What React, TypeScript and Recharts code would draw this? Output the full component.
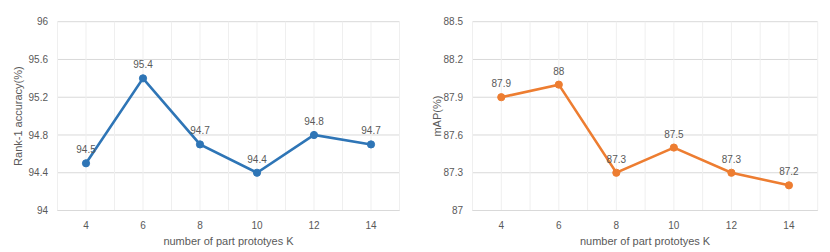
import React from 'react';
import { LineChart, Line, XAxis, YAxis, CartesianGrid, ReferenceLine, LabelList, Label } from 'recharts';

const kValues = [4, 6, 8, 10, 12, 14];
const rank1Values = [94.5, 95.4, 94.7, 94.4, 94.8, 94.7];
const mapValues = [87.9, 88, 87.3, 87.5, 87.3, 87.2];
const rank1Ticks = [94, 94.4, 94.8, 95.2, 95.6, 96];
const mapTicks = [87, 87.3, 87.6, 87.9, 88.2, 88.5];
const gridX = [3, 4, 5, 6, 7, 8, 9, 10, 11, 12, 13, 14, 15];
const xTitle = 'number of part prototyes K';

const FONT = 'Liberation Sans, Arial, sans-serif';
const TEXT = '#595959';

type PanelProps = {
  values: number[];
  ticks: number[];
  color: string;
  yTitle: string;
  titleX: number;
  right: number;
};

function Panel({ values, ticks, color, yTitle, titleX, right }: PanelProps) {
  const data = kValues.map((k, i) => ({ k, v: values[i] }));
  return (
    <LineChart
      width={415}
      height={252}
      data={data}
      margin={{ top: 21.7, right, bottom: 3.5, left: 0 }}
      style={{ fontFamily: FONT }}
    >
      <CartesianGrid horizontal={true} vertical={false} stroke="#d9d9d9" strokeWidth={1} />
      {gridX.map((g) => (
        <ReferenceLine key={g} x={g} stroke="#efefef" strokeWidth={1} ifOverflow="visible" />
      ))}
      <XAxis
        dataKey="k"
        type="number"
        domain={[3, 15]}
        ticks={kValues}
        height={38}
        axisLine={{ stroke: '#d9d9d9' }}
        tickLine={false}
        tickSize={0}
        tickMargin={11}
        tick={{ fill: TEXT, fontSize: 10 }}
      >
        <Label value={xTitle} position="insideBottom" offset={4} fill={TEXT} fontSize={11} />
      </XAxis>
      <YAxis
        type="number"
        domain={[ticks[0], ticks[ticks.length - 1]]}
        ticks={ticks}
        width={57.5}
        axisLine={false}
        tickLine={false}
        tickSize={0}
        tickMargin={9.5}
        tick={{ fill: TEXT, fontSize: 10 }}
        label={{
          content: (p: any) => {
            const vb = p.viewBox || {};
            const cx = (vb.x ?? 0) + titleX;
            const cy = (vb.y ?? 0) + (vb.height ?? 0) / 2;
            return (
              <text
                x={cx}
                y={cy}
                transform={`rotate(-90 ${cx} ${cy})`}
                textAnchor="middle"
                dominantBaseline="central"
                fill={TEXT}
                fontSize={11}
              >
                {yTitle}
              </text>
            );
          },
        }}
      />
      <Line
        dataKey="v"
        stroke={color}
        strokeWidth={2.6}
        dot={{ r: 3.6, fill: color, stroke: color, strokeWidth: 1 }}
        activeDot={false}
        isAnimationActive={false}
      >
        <LabelList dataKey="v" position="top" offset={10} fill={TEXT} fontSize={10} />
      </Line>
    </LineChart>
  );
}

export default function App() {
  return (
    <div style={{ position: 'absolute', left: 0, top: 0, width: 830, height: 252, background: '#fff', display: 'flex' }}>
      <Panel values={rank1Values} ticks={rank1Ticks} color="#2E75B6" yTitle="Rank-1 accuracy(%)" titleX={18.3} right={15.5} />
      <Panel values={mapValues} ticks={mapTicks} color="#ED7D31" yTitle="mAP(%)" titleX={21.7} right={12.3} />
    </div>
  );
}
